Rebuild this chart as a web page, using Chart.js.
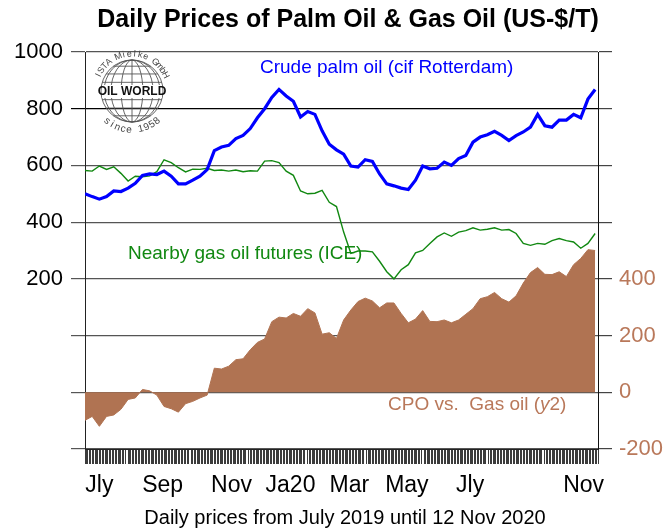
<!DOCTYPE html>
<html>
<head>
<meta charset="utf-8">
<script src="https://cdn.jsdelivr.net/npm/chart.js@4.4.0/dist/chart.umd.min.js"></script>
<style>
  html, body { margin: 0; padding: 0; background: #fff; }
  #wrap { width: 665px; height: 531px; }
</style>
</head>
<body>
<div id="wrap"><canvas id="chart" width="665" height="531"></canvas></div>
<script>
// trading days from July 2019 to 12 Nov 2020, one point per week (every 5 trading days)
const tradingDays = 358;
const weekStep = 5;

const monthLabels = ["Jly", "Sep", "Nov", "Ja20", "Mar", "May", "Jly", "Nov"];
const monthLabelDays = [10, 54, 102, 143, 184, 224, 268, 347];
const monthGapDays = [29, 73, 113, 154, 195, 235, 280, 319];

const leftTicks = [200, 400, 600, 800, 1000];
const rightTicks = [-200, 0, 200, 400];

// US-$/T
const palmOil = [
  500, 490, 481, 490, 510, 508, 520, 537, 565, 570,
  568, 580, 562, 535, 535, 548, 562, 585, 652, 665,
  671, 695, 706, 730, 768, 800, 840, 868, 845, 826,
  771, 790, 780, 722, 675, 655, 640, 598, 594, 620,
  614, 570, 535, 528, 520, 515, 548, 598, 588, 590,
  612, 600, 624, 635, 682, 700, 708, 720, 706, 688,
  705, 718, 735, 780, 740, 735, 760, 760, 780, 768,
  834, 868
];

const gasOil = [
  582, 580, 598, 586, 595, 572, 545, 562, 560, 563,
  578, 620, 610, 592, 577, 587, 586, 590, 582, 584,
  580, 584, 578, 581, 580, 615, 617, 610, 580, 565,
  510, 500, 502, 512, 470, 455, 365, 290, 298, 298,
  295, 262, 225, 200, 232, 250, 292, 300, 325, 348,
  362, 350, 365, 370, 380, 372, 375, 380, 372, 374,
  360, 325, 318, 325, 322, 335, 342, 335, 330, 308,
  325, 360
];

// CPO vs. gas oil spread (y2)
const spread = [
  -99, -85, -120, -85, -80, -60, -25, -20, 10, 5,
  -10, -50, -58, -70, -40, -32, -20, -10, 85, 82,
  92, 115, 118, 150, 176, 188, 249, 265, 262, 278,
  268, 295, 280, 205, 210, 190, 255, 290, 320, 332,
  322, 298, 315, 315, 278, 245, 258, 288, 250, 249,
  255, 245, 255, 275, 295, 330, 337, 352, 330, 318,
  340, 385, 422, 440, 416, 415, 425, 408, 450, 472,
  503, 500
];

const FONT = '"Liberation Sans", Arial, Helvetica, sans-serif';
const BROWN = "#b07352";
const BROWN_TEXT = "#b9785a";

Chart.defaults.font.family = FONT;
Chart.defaults.color = "#000";

const toPoints = (arr) => arr.map((v, i) => ({ x: i * weekStep, y: v }));

function arcText(ctx, text, cx, cy, r, startAng, endAng, top) {
  const n = text.length;
  for (let i = 0; i < n; i++) {
    const a = startAng + (endAng - startAng) * (i / (n - 1));
    ctx.save();
    ctx.translate(cx + r * Math.cos(a), cy + r * Math.sin(a));
    ctx.rotate(top ? a + Math.PI / 2 : a - Math.PI / 2);
    ctx.fillText(text[i], 0, 0);
    ctx.restore();
  }
}

function drawLogo(ctx, cx, cy, r) {
  ctx.save();
  ctx.strokeStyle = "#555";
  ctx.lineWidth = 0.9;
  ctx.beginPath();
  ctx.arc(cx, cy, r, 0, Math.PI * 2);
  ctx.stroke();
  [0.35, 0.68, 0.9].forEach((f) => {
    ctx.beginPath();
    ctx.ellipse(cx, cy, r * f, r, 0, 0, Math.PI * 2);
    ctx.stroke();
  });
  ctx.beginPath();
  ctx.moveTo(cx, cy - r);
  ctx.lineTo(cx, cy + r);
  ctx.stroke();
  [-0.8, -0.55, -0.28, 0.28, 0.55, 0.8].forEach((t) => {
    const y = cy + t * r;
    const w = Math.sqrt(1 - t * t) * r;
    ctx.beginPath();
    ctx.moveTo(cx - w, y);
    ctx.lineTo(cx + w, y);
    ctx.stroke();
  });
  ctx.fillStyle = "#fff";
  ctx.fillRect(cx - r + 1, cy - 6, 2 * r - 2, 13);
  ctx.fillStyle = "#111";
  ctx.font = "bold 12px " + FONT;
  ctx.textAlign = "center";
  ctx.textBaseline = "middle";
  ctx.fillText("OIL WORLD", cx, cy + 1);
  ctx.fillStyle = "#444";
  ctx.font = "9px " + FONT;
  arcText(ctx, "ISTA Mielke GmbH", cx, cy, r + 6, -Math.PI * 0.86, -Math.PI * 0.14, true);
  ctx.font = "10px " + FONT;
  arcText(ctx, "since 1958", cx, cy, r + 8, Math.PI * 0.72, Math.PI * 0.28, false);
  ctx.restore();
}

const overlay = {
  id: "overlay",
  beforeDatasetsDraw(chart) {
    const a = chart.chartArea;
    drawLogo(chart.ctx, a.left + 47, a.top + 39, 31);
  },
  afterDraw(chart) {
    const { ctx, chartArea: a } = chart;
    ctx.save();
    ctx.textBaseline = "middle";
    ctx.textAlign = "center";
    ctx.fillStyle = "#000";
    ctx.font = "bold 25px " + FONT;
    ctx.fillText("Daily Prices of Palm Oil & Gas Oil (US-$/T)", 348, 20);
    ctx.font = "20px " + FONT;
    ctx.fillText("Daily prices from July 2019 until 12 Nov 2020", 345, 518);

    ctx.textAlign = "left";
    ctx.font = "19px " + FONT;
    ctx.fillStyle = "#0000ff";
    ctx.fillText("Crude palm oil (cif Rotterdam)", a.left + 175, a.top + 16);
    ctx.fillStyle = "#118811";
    ctx.fillText("Nearby gas oil futures (ICE)", a.left + 43, a.top + 202);
    ctx.fillStyle = BROWN_TEXT;
    const t1 = "CPO vs.  Gas oil (";
    ctx.fillText(t1, a.left + 303, a.top + 353);
    let w = ctx.measureText(t1).width;
    ctx.font = "italic 19px " + FONT;
    ctx.fillText("y", a.left + 303 + w, a.top + 353);
    w += ctx.measureText("y").width;
    ctx.font = "19px " + FONT;
    ctx.fillText("2)", a.left + 303 + w, a.top + 353);
    ctx.restore();
  }
};

new Chart(document.getElementById("chart"), {
  type: "line",
  data: {
    datasets: [
      {
        label: "Crude palm oil (cif Rotterdam)",
        data: toPoints(palmOil),
        borderColor: "#0000ff",
        borderWidth: 3.2,
        pointRadius: 0,
        tension: 0,
        yAxisID: "y",
        order: 1,
      },
      {
        label: "Nearby gas oil futures (ICE)",
        data: toPoints(gasOil),
        borderColor: "#118811",
        borderWidth: 1.4,
        pointRadius: 0,
        tension: 0,
        yAxisID: "y",
        order: 2,
      },
      {
        label: "CPO vs. Gas oil (y2)",
        data: toPoints(spread),
        borderColor: BROWN,
        backgroundColor: BROWN,
        borderWidth: 1,
        pointRadius: 0,
        tension: 0,
        fill: "origin",
        yAxisID: "y2",
        order: 3,
      },
    ],
  },
  options: {
    responsive: false,
    animation: false,
    devicePixelRatio: 1,
    layout: { padding: { top: 52, bottom: 0, left: 0, right: 0 } },
    plugins: {
      legend: { display: false },
      title: { display: false },
      tooltip: { enabled: false },
    },
    scales: {
      x: {
        type: "linear",
        min: 0,
        max: tradingDays - 1,
        afterFit: (s) => { s.height = 82; },
        afterBuildTicks: (s) => {
          s.ticks = Array.from({ length: tradingDays }, (_, i) => ({ value: i }));
        },
        ticks: {
          autoSkip: false,
          maxRotation: 0,
          padding: 8,
          font: { size: 23 },
          color: "#000",
          callback: (v) => {
            const i = monthLabelDays.indexOf(v);
            return i >= 0 ? monthLabels[i] : "";
          },
        },
        grid: {
          drawOnChartArea: false,
          tickLength: 15,
          lineWidth: 1,
          color: (ctx) => (ctx.tick && monthGapDays.includes(ctx.tick.value) ? "#ffffff" : "#3c3c3c"),
        },
        border: { display: true, color: "#222" },
      },
      y: {
        position: "left",
        min: -400,
        max: 1000,
        afterFit: (s) => { s.width = 85; },
        ticks: {
          stepSize: 200,
          padding: 8,
          font: { size: 22 },
          color: "#000",
          callback: (v) => (leftTicks.includes(v) ? v : ""),
        },
        grid: {
          tickLength: 14,
          lineWidth: 1.2,
          color: (ctx) => (ctx.tick && ctx.tick.value === 800 ? "#000" : "#555"),
        },
        border: { display: true, color: "#222" },
      },
      y2: {
        position: "right",
        min: -200,
        max: 1200,
        afterFit: (s) => { s.width = 67; },
        ticks: {
          stepSize: 200,
          padding: 7,
          font: { size: 22 },
          color: BROWN_TEXT,
          callback: (v) => (rightTicks.includes(v) ? v : ""),
        },
        grid: {
          drawOnChartArea: false,
          tickLength: 14,
          lineWidth: 1.2,
          color: "#444",
        },
        border: { display: true, color: "#111" },
      },
    },
  },
  plugins: [overlay],
});
</script>
</body>
</html>
